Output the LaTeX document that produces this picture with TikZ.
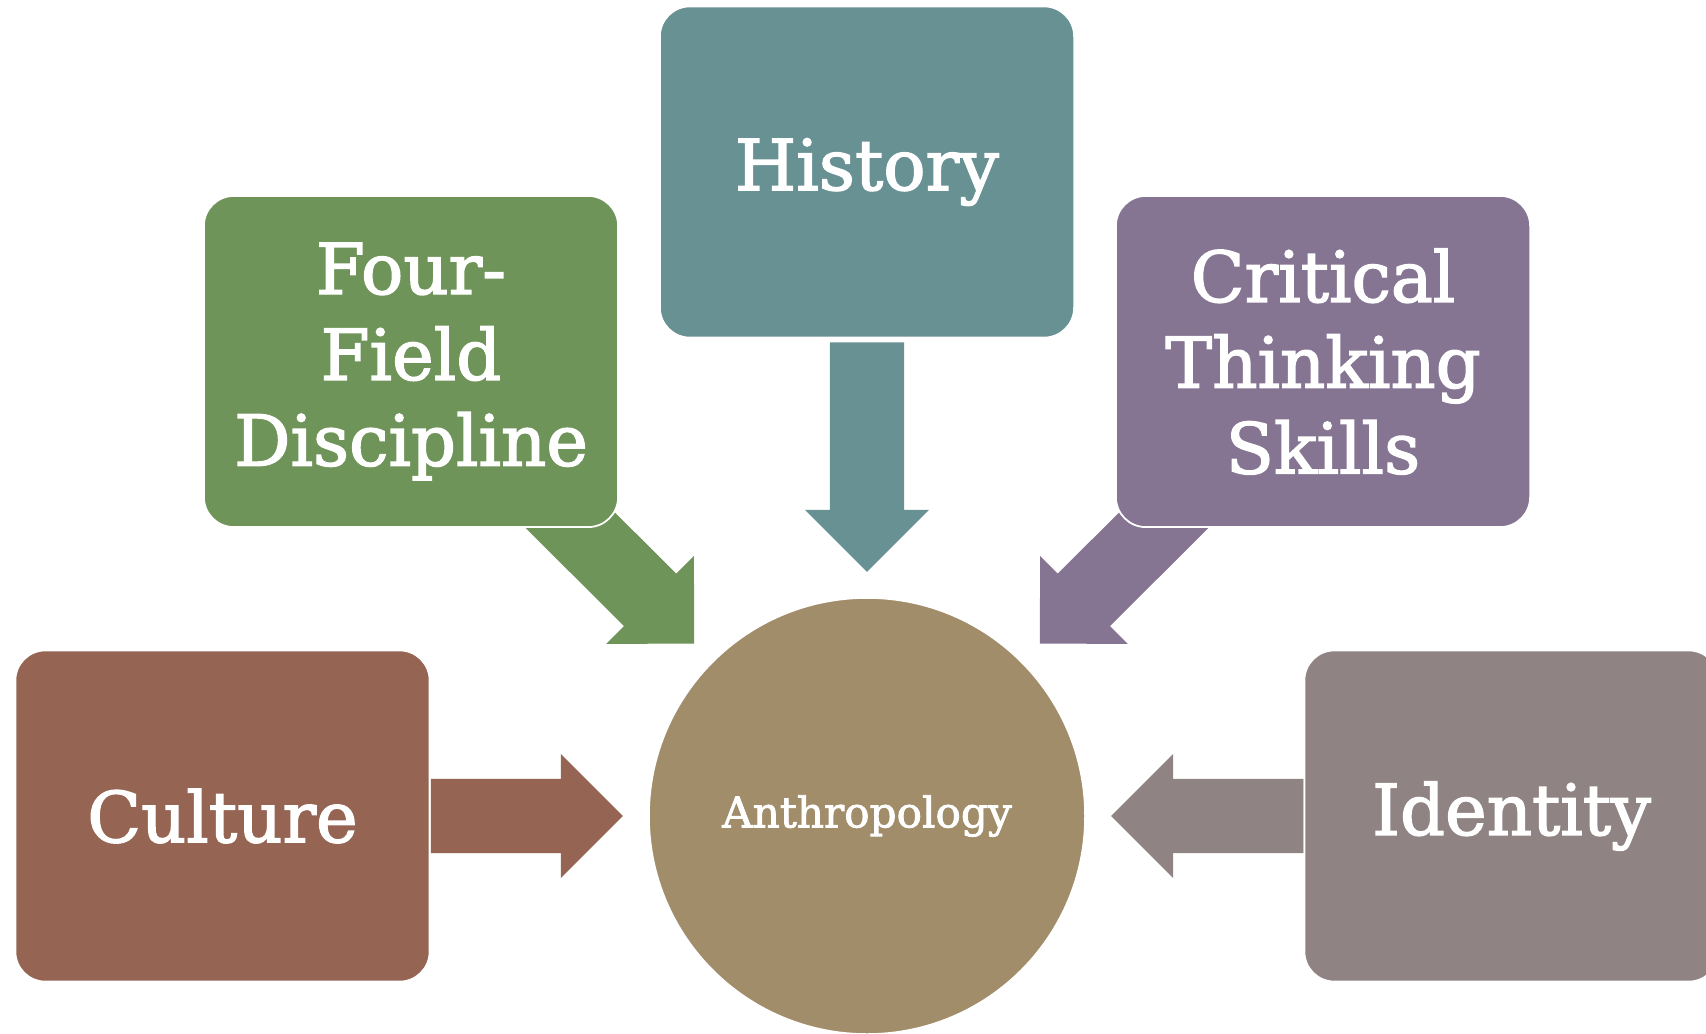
\documentclass[tikz,border=0pt]{standalone}
\usepackage{fontspec}
\setmainfont{DejaVu Serif}
\newfontfamily\slabfont{DejaVu Serif}[FakeBold=2]
\usepackage{xcolor}
\definecolor{fieldgreen}{HTML}{6F9459}
\definecolor{historyteal}{HTML}{689193}
\definecolor{thinkpurple}{HTML}{857592}
\definecolor{culturebrown}{HTML}{956452}
\definecolor{identitygrey}{HTML}{8F8483}
\definecolor{anthrotan}{HTML}{A28D6A}
\usepackage{tikz}
\usetikzlibrary{calc,backgrounds}
% block arrow: colour, start, target (tip stops 2.44cm short of target)
\newcommand{\feedarrow}[3]{%
  \coordinate (tip) at ($(#3)!2.44cm!(#2)$);
  \coordinate (neck) at ($(#3)!3.06cm!(#2)$);
  \fill[#1] ($(#2)!0.37cm!90:(#3)$) -- ($(neck)!0.37cm!90:(tip)$)
    -- ($(neck)!0.62cm!90:(tip)$) -- (tip) -- ($(neck)!0.62cm!-90:(tip)$)
    -- ($(neck)!0.37cm!-90:(tip)$) -- ($(#2)!0.37cm!-90:(#3)$) -- cycle;}

\begin{document}
\begin{tikzpicture}[x=0.01cm,y=-0.01cm,
  topic/.style={rectangle,rounded corners=0.3cm,draw=white,line width=0.5pt,
    minimum width=4.14cm,minimum height=3.31cm,text=white,align=center,
    font=\slabfont\fontsize{20}{24.4}\selectfont},
  hub/.style={circle,draw=white,line width=0.5pt,minimum size=4.36cm,inner sep=0pt,
    text=white,font=\slabfont\fontsize{12}{14}\selectfont}]
  \useasboundingbox (0,0) rectangle (1706,1033);
  \clip (0,0) rectangle (1706,1033);
  % centre circle
  \node[hub,fill=anthrotan] (anthro) at (867,816) {Anthropology};
  % top row
  \node[topic,fill=historyteal] (history) at (867,172) {History};
  \node[topic,fill=fieldgreen] (fourfield) at (411,361.5) {Four-\\Field\\Discipline};
  \node[topic,fill=thinkpurple] (critical) at (1323,361.5) {Critical\\Thinking\\Skills};
  % side boxes
  \node[topic,fill=culturebrown] (culture) at (222.5,816) {Culture};
  \node[topic,fill=identitygrey] (identity) at (1511.5,816) {Identity};
  \coordinate (historyfoot) at ($(history.south)+(0,4)$);
  % block arrows into the circle, behind the boxes
  \begin{scope}[on background layer]
    \feedarrow{historyteal}{historyfoot}{anthro.center}
    \feedarrow{fieldgreen}{fourfield.center}{anthro.center}
    \feedarrow{thinkpurple}{critical.center}{anthro.center}
    \feedarrow{culturebrown}{culture.east}{anthro.center}
    \feedarrow{identitygrey}{identity.west}{anthro.center}
  \end{scope}
\end{tikzpicture}
\end{document}
